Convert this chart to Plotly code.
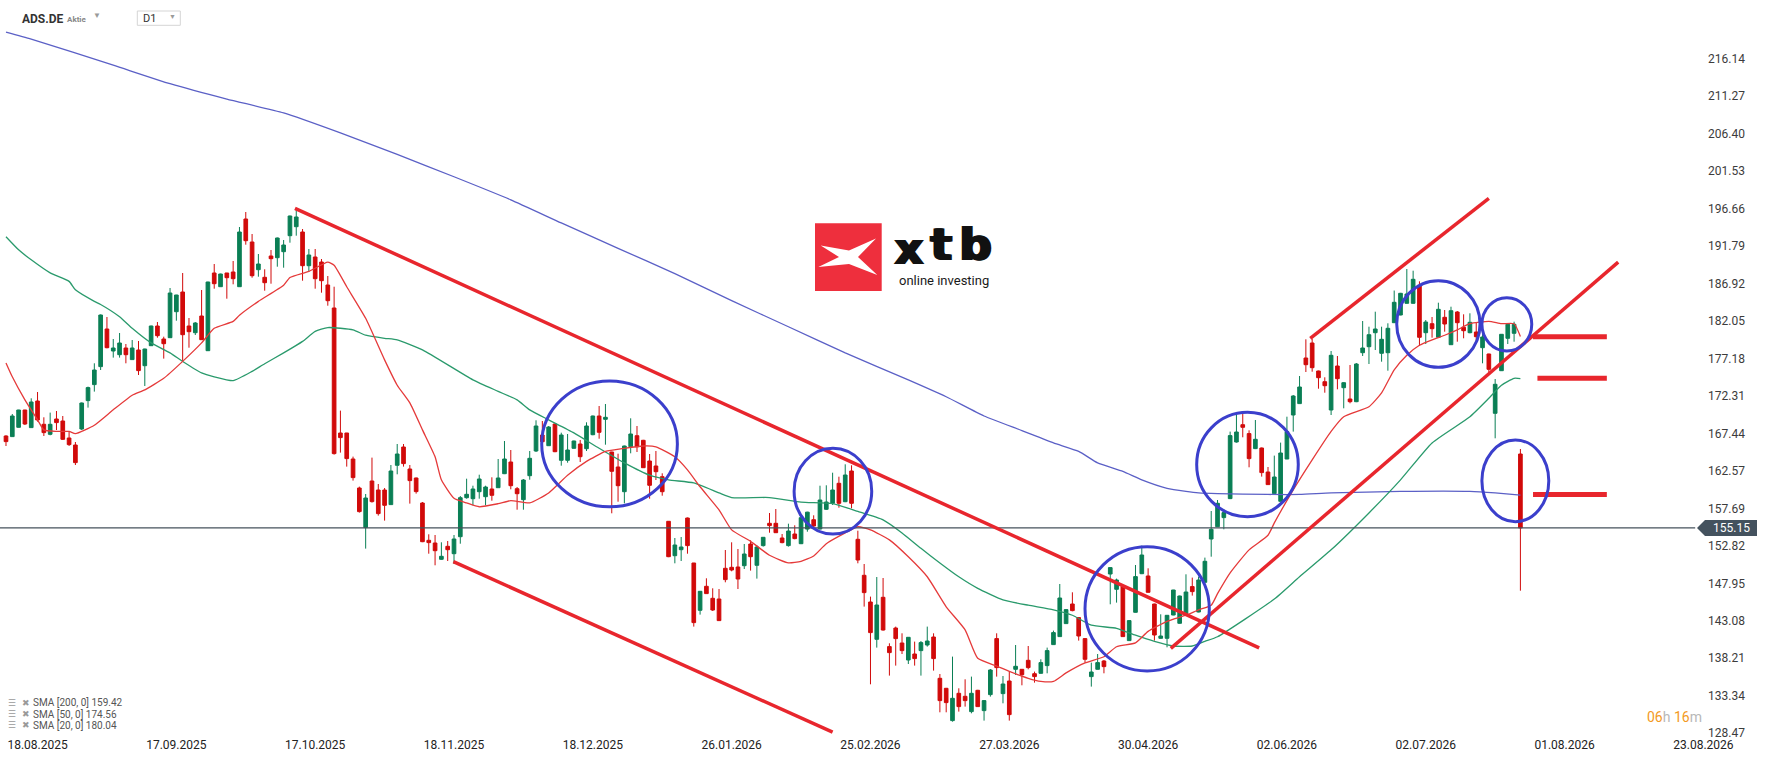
import plotly.graph_objects as go

W, H = 1768, 761
PLOT_B = 736  # bottom of plot area in px

# ---------------- data ----------------
tick_idx = [5, 27, 49, 71, 93, 115, 137, 159, 181, 203, 225, 247, 269]
tick_text = ["18.08.2025", "17.09.2025", "17.10.2025", "18.11.2025", "18.12.2025",
             "26.01.2026", "25.02.2026", "27.03.2026", "30.04.2026", "02.06.2026",
             "02.07.2026", "01.08.2026", "23.08.2026"]

y_ticks = [216.14, 211.27, 206.40, 201.53, 196.66, 191.79, 186.92, 182.05, 177.18, 172.31,
           167.44, 162.57, 157.69, 152.82, 147.95, 143.08, 138.21, 133.34, 128.47]

opens = [167.10, 167.02, 168.23, 170.48, 168.19, 171.65, 168.62, 167.32, 169.31, 169.05,
         166.84, 165.93, 168.01, 171.70, 173.78, 176.12, 181.01, 178.15, 177.67, 178.54,
         177.03, 178.28, 176.24, 178.84, 181.40, 179.71, 179.88, 183.26, 185.82, 181.40,
         180.53, 182.70, 178.19, 188.29, 186.51, 188.29, 188.42, 186.51, 195.31, 192.32,
         188.72, 187.73, 190.50, 190.28, 191.06, 193.14, 194.31, 193.62, 189.24, 190.37,
         189.72, 186.73, 183.74, 167.49, 167.49, 164.11, 160.34, 155.19, 161.25, 160.08,
         160.08, 158.18, 163.29, 165.67, 162.81, 161.64, 158.39, 153.54, 153.19, 151.07,
         152.76, 151.80, 154.01, 159.08, 158.95, 159.86, 159.21, 160.21, 160.38, 162.20,
         163.72, 160.25, 158.82, 161.94, 165.15, 167.23, 165.84, 168.66, 163.94, 163.94,
         165.50, 166.06, 165.45, 167.27, 169.70, 169.27, 165.02, 163.07, 159.86, 165.71,
         167.14, 166.54, 163.85, 163.20, 161.81, 156.01, 151.54, 152.32, 156.44, 150.59,
         144.44, 147.56, 146.00, 145.91, 149.90, 150.03, 150.07, 150.24, 153.06, 150.29,
         152.85, 155.75, 155.75, 153.84, 152.85, 154.36, 153.10, 155.00, 156.22, 155.01,
         157.57, 158.35, 160.95, 158.56, 162.55, 153.67, 148.99, 145.52, 140.67, 146.13,
         139.72, 142.14, 140.19, 137.98, 138.76, 139.20, 139.93, 140.97, 135.60, 134.30,
         130.10, 133.65, 133.26, 131.27, 134.04, 131.40, 133.48, 140.76, 133.61, 135.25,
         136.77, 136.77, 137.94, 136.20, 136.25, 137.25, 139.98, 141.02, 142.71, 145.26,
         143.49, 140.76, 135.82, 136.77, 137.85, 149.16, 147.17, 147.52, 140.50, 144.18,
         149.20, 148.90, 145.26, 140.80, 140.80, 143.83, 142.75, 143.79, 147.52, 144.22,
         148.08, 153.71, 155.31, 156.49, 158.96, 166.32, 168.57, 167.41, 165.46, 165.54,
         162.42, 159.61, 158.61, 164.11, 169.83, 171.31, 177.24, 179.19, 175.55, 174.16,
         170.48, 176.20, 173.38, 171.91, 171.56, 177.93, 178.71, 180.53, 177.85, 177.93,
         181.83, 182.83, 184.35, 184.35, 186.69, 180.53, 181.70, 179.93, 182.53, 178.97,
         183.22, 181.23, 180.53, 180.62, 178.58, 177.76, 170.05, 175.59, 179.80, 180.45,
         164.76]
highs = [167.20, 169.96, 170.50, 170.50, 172.00, 172.82, 169.53, 170.14, 170.35, 169.70,
         167.75, 166.32, 171.45, 173.52, 176.55, 182.90, 182.57, 179.71, 180.49, 179.06,
         179.58, 179.45, 178.45, 181.45, 181.92, 180.01, 186.34, 185.45, 188.29, 182.44,
         181.92, 186.08, 187.15, 189.46, 188.20, 188.30, 189.85, 194.27, 196.22, 193.36,
         190.76, 188.77, 191.28, 192.90, 192.58, 195.75, 196.61, 194.01, 191.41, 191.41,
         190.11, 187.90, 186.51, 170.40, 167.50, 164.42, 160.52, 159.56, 164.29, 160.86,
         160.34, 163.33, 166.06, 166.06, 163.33, 161.70, 158.52, 154.32, 154.23, 153.28,
         153.45, 154.23, 159.30, 161.55, 160.64, 162.07, 160.64, 161.73, 164.11, 166.45,
         165.28, 160.47, 161.51, 165.15, 169.14, 169.05, 168.40, 168.70, 167.53, 167.36,
         166.50, 166.58, 168.88, 169.75, 171.00, 171.26, 165.05, 164.80, 165.85, 169.40,
         168.40, 166.60, 164.76, 165.15, 162.25, 156.05, 153.84, 153.97, 156.50, 150.60,
         146.95, 148.60, 147.30, 147.21, 152.28, 153.28, 152.41, 153.06, 153.54, 152.89,
         153.95, 157.09, 157.61, 154.36, 155.70, 155.49, 156.66, 157.25, 156.79, 160.64,
         160.69, 162.33, 161.81, 163.42, 163.29, 154.79, 150.46, 146.22, 148.77, 148.64,
         140.15, 142.32, 141.45, 140.95, 140.37, 140.45, 142.32, 141.45, 136.16, 134.35,
         138.42, 134.30, 135.47, 135.82, 134.10, 132.75, 136.81, 141.45, 135.90, 136.47,
         139.93, 136.80, 139.80, 136.47, 138.07, 139.59, 141.80, 147.86, 144.55, 146.78,
         143.50, 140.80, 137.64, 138.76, 137.98, 150.00, 148.56, 147.55, 143.15, 150.33,
         152.85, 149.90, 145.30, 143.92, 143.80, 147.10, 146.35, 149.12, 148.69, 148.82,
         151.29, 157.35, 158.78, 157.57, 167.67, 169.96, 170.05, 167.84, 169.18, 165.60,
         163.07, 164.55, 166.24, 169.61, 172.43, 174.90, 179.67, 179.71, 175.60, 174.73,
         178.15, 177.50, 174.10, 176.33, 176.59, 182.05, 181.31, 183.26, 181.31, 181.75,
         186.01, 185.70, 188.81, 188.59, 187.21, 182.18, 182.57, 184.43, 183.48, 183.91,
         183.35, 182.92, 183.05, 181.83, 180.36, 177.80, 174.51, 180.35, 181.65, 181.96,
         165.41]
lows = [165.80, 167.00, 168.20, 168.53, 168.15, 168.97, 167.10, 167.19, 167.88, 166.58,
        165.80, 163.33, 167.88, 170.79, 172.87, 175.68, 178.50, 177.29, 177.29, 176.55,
        177.00, 175.03, 173.60, 178.80, 179.88, 177.16, 179.85, 182.09, 176.77, 178.58,
        180.23, 179.60, 178.15, 186.25, 186.50, 184.95, 186.82, 186.50, 191.97, 187.68,
        187.81, 185.99, 186.90, 189.11, 188.98, 192.23, 193.14, 187.29, 188.46, 186.25,
        185.73, 184.04, 164.68, 164.94, 163.12, 161.30, 157.14, 152.46, 158.44, 156.75,
        156.10, 158.15, 162.12, 163.12, 158.31, 159.61, 153.30, 151.80, 150.29, 151.00,
        150.85, 150.46, 153.10, 158.95, 158.09, 158.95, 158.09, 158.69, 160.35, 162.15,
        160.17, 157.52, 157.52, 161.42, 165.02, 165.97, 165.80, 165.00, 163.24, 163.63,
        165.45, 163.72, 165.15, 167.20, 166.75, 165.97, 157.05, 158.56, 158.35, 164.85,
        165.02, 162.95, 158.95, 161.38, 159.34, 151.35, 150.55, 150.85, 151.80, 142.32,
        143.88, 146.60, 144.35, 143.05, 148.08, 149.51, 147.21, 149.81, 149.60, 148.56,
        152.72, 154.53, 154.50, 153.15, 152.72, 153.67, 153.05, 154.66, 155.27, 154.95,
        157.48, 158.13, 157.78, 158.50, 157.70, 150.55, 144.92, 134.82, 139.59, 141.80,
        135.95, 137.25, 138.76, 137.46, 137.25, 135.95, 139.72, 136.60, 131.18, 131.18,
        129.97, 131.27, 131.92, 131.05, 131.90, 130.10, 133.22, 135.82, 132.35, 130.10,
        136.03, 134.69, 136.77, 135.04, 136.20, 136.25, 139.95, 141.00, 142.70, 144.31,
        140.50, 137.64, 134.52, 136.75, 136.25, 145.22, 145.44, 141.00, 140.45, 144.15,
        149.15, 146.75, 140.50, 140.75, 139.63, 143.80, 142.70, 143.75, 146.35, 144.18,
        148.05, 151.41, 155.30, 154.97, 158.90, 166.24, 166.93, 163.03, 165.40, 161.82,
        160.75, 159.60, 158.60, 164.10, 167.67, 171.30, 175.42, 175.46, 173.25, 172.73,
        169.83, 173.17, 170.70, 171.35, 171.50, 177.50, 176.46, 178.28, 176.76, 175.59,
        181.80, 182.80, 184.30, 184.30, 178.80, 179.06, 179.88, 179.90, 180.66, 178.95,
        179.36, 179.80, 180.45, 179.32, 176.55, 175.33, 166.80, 175.55, 179.06, 179.36,
        146.99]
closes = [166.37, 169.70, 170.48, 168.66, 171.52, 169.18, 167.54, 168.62, 168.84, 166.67,
          165.98, 163.64, 171.39, 173.39, 175.68, 182.83, 178.58, 178.54, 179.19, 177.67,
          178.54, 175.60, 178.41, 181.40, 180.14, 179.10, 185.69, 185.43, 180.27, 180.66,
          181.79, 179.62, 187.12, 186.90, 188.16, 187.68, 187.55, 193.62, 192.49, 187.94,
          189.46, 187.03, 190.15, 192.84, 191.93, 195.70, 195.57, 189.24, 190.63, 187.55,
          187.29, 184.69, 164.81, 166.89, 164.16, 161.69, 157.27, 159.04, 158.57, 157.01,
          158.09, 162.55, 164.76, 163.51, 161.30, 159.87, 153.36, 153.24, 152.19, 151.46,
          152.32, 153.71, 159.08, 159.52, 160.21, 161.51, 160.47, 159.39, 161.64, 164.11,
          160.64, 159.60, 161.38, 164.20, 168.40, 166.36, 168.27, 165.06, 167.23, 165.28,
          166.45, 164.41, 168.40, 169.70, 167.58, 169.53, 162.51, 160.64, 165.80, 167.36,
          165.71, 162.98, 160.69, 162.46, 159.86, 151.41, 152.93, 152.67, 152.85, 142.84,
          146.91, 146.61, 144.48, 143.10, 148.43, 149.68, 148.51, 151.76, 151.41, 152.67,
          153.93, 155.45, 154.53, 153.24, 154.75, 153.76, 156.48, 157.20, 155.40, 158.78,
          158.52, 160.08, 158.35, 162.03, 158.35, 150.98, 146.74, 141.54, 145.13, 141.88,
          138.94, 140.76, 139.20, 140.93, 138.16, 140.24, 140.45, 138.16, 132.70, 132.44,
          133.00, 131.92, 132.70, 133.65, 131.92, 132.70, 136.68, 136.99, 134.86, 130.88,
          137.16, 136.07, 136.99, 135.82, 137.64, 139.20, 141.54, 146.04, 144.53, 144.40,
          141.10, 138.07, 136.42, 137.64, 137.12, 149.99, 148.38, 141.02, 143.10, 148.82,
          151.63, 146.78, 141.23, 141.10, 143.79, 147.08, 146.30, 146.82, 146.87, 148.38,
          150.81, 154.97, 158.35, 157.14, 167.15, 167.62, 168.23, 164.16, 166.67, 162.34,
          160.78, 161.77, 164.89, 167.67, 172.30, 173.47, 176.37, 175.98, 174.68, 173.64,
          177.59, 174.55, 174.03, 171.56, 176.46, 178.54, 180.27, 181.01, 179.67, 181.10,
          184.48, 185.65, 185.56, 187.47, 179.93, 181.92, 181.05, 183.57, 181.66, 183.39,
          181.83, 180.79, 181.88, 180.01, 179.97, 175.77, 173.82, 180.32, 181.62, 181.62,
          155.15]

sma200_idx = [0, 4, 17, 26, 35, 44, 53, 62, 71, 80, 88, 97, 106, 115, 124, 133, 143, 149, 155, 161,
              166, 170, 173, 177, 180, 184, 187, 189, 192, 200, 205, 210, 221, 232, 236, 240]
sma200_val = [219.6, 218.7, 215.3, 212.9, 210.9, 209.1, 206.5, 203.7, 200.8, 197.8,
              194.8, 191.5, 188.2, 184.7, 181.3, 177.9, 174.4, 172.2, 169.7, 167.8,
              166.2, 165.1, 163.6, 162.5, 161.4, 160.3, 159.9, 159.7, 159.6, 159.5,
              159.5, 159.7, 159.9, 159.9, 159.7, 159.42]

sma50_idx = [0, 2, 4, 7, 10, 11, 14, 15, 18, 20, 23, 26, 28, 31, 33, 36, 39, 41, 44, 47,
             49, 51, 55, 57, 60, 62, 66, 74, 78, 81, 83, 86, 90, 94, 98, 102, 105, 109, 113, 115,
             121, 126, 131, 135, 139, 142, 145, 148, 151, 154, 158, 162, 166, 169, 172, 176, 179, 182, 185, 188,
             190, 192, 201, 205, 210, 216, 221, 226, 232, 235, 237, 239, 240]
sma50_val = [193.0, 191.3, 190.0, 188.3, 187.2, 186.1, 184.6, 184.2, 182.6, 181.1,
             179.2, 177.9, 176.8, 175.3, 174.8, 174.3, 175.5, 176.5, 177.9, 179.4,
             180.7, 181.2, 180.9, 180.2, 179.8, 179.6, 178.3, 174.4, 172.9, 171.8,
             170.5, 169.2, 167.5, 165.5, 163.6, 162.0, 161.4, 161.0, 159.7, 159.1,
             159.1, 158.5, 158.3, 157.3, 156.2, 154.5, 152.5, 150.6, 148.8, 147.3,
             145.8, 145.1, 144.5, 143.8, 142.5, 142.1, 141.2, 140.4, 139.8, 139.8,
             140.4, 141.0, 145.9, 148.8, 152.3, 157.1, 161.4, 166.2, 169.6, 172.0,
             173.7, 174.6, 174.56]

sma20_idx = [0, 1, 3, 5, 6, 8, 10, 11, 14, 17, 20, 22, 25, 28, 31, 33, 36, 37, 40, 44,
             45, 48, 51, 52, 54, 57, 60, 62, 64, 66, 68, 69, 71, 73, 75, 78, 80, 83, 86, 89,
             92, 95, 98, 101, 103, 106, 108, 110, 113, 115, 118, 121, 124, 126, 128, 130, 133, 135, 137, 140,
             143, 146, 149, 152, 154, 157, 159, 162, 164, 166, 168, 171, 174, 176, 179, 181, 184, 187, 189, 191,
             192, 194, 197, 200, 201, 204, 207, 210, 212, 216, 218, 220, 222, 224, 226, 228, 230, 232, 235, 237,
             239, 240]
sma20_val = [176.6, 174.8, 171.8, 169.2, 167.9, 167.7, 167.7, 167.4, 168.5, 170.5,
             172.4, 173.1, 174.6, 176.8, 179.2, 181.1, 182.0, 182.8, 184.6, 186.7,
             187.7, 188.5, 189.7, 189.3, 186.5, 182.4, 177.0, 173.7, 171.4, 167.9,
             164.4, 161.4, 159.0, 158.4, 157.9, 158.3, 158.7, 158.4, 159.7, 162.0,
             163.8, 165.1, 165.5, 165.8, 165.7, 164.4, 162.7, 160.5, 157.5, 154.9,
             153.4, 151.6, 150.6, 150.8, 151.5, 153.1, 154.5, 155.3, 154.9, 153.6,
             151.4, 148.8, 144.9, 141.9, 138.2, 137.2, 136.5, 135.6, 135.2, 135.2,
             136.3, 137.6, 138.4, 139.7, 140.2, 141.7, 143.0, 143.8, 144.5, 145.1,
             146.6, 149.3, 152.3, 154.2, 155.8, 160.1, 164.0, 167.7, 169.6, 170.9,
             172.7, 175.7, 177.6, 178.9, 179.6, 180.2, 180.9, 181.7, 182.0, 181.7,
             181.7, 180.04]

legend_rows = ["SMA [200, 0] 159.42", "SMA [50, 0] 174.56", "SMA [20, 0] 180.04"]
last_price = 155.15

# ---------------- figure ----------------
Y0, Y1 = 128.10, 223.78
X0, X1 = -0.95, 279.24


def P(px, py):
    return px / W, (PLOT_B - py) / PLOT_B


fig = go.Figure()
x = list(range(len(opens)))
fig.add_trace(go.Candlestick(
    x=x, open=opens, high=highs, low=lows, close=closes,
    increasing=dict(line=dict(color="#0a7f55", width=1), fillcolor="#0a7f55"),
    decreasing=dict(line=dict(color="#d10a0a", width=1), fillcolor="#d10a0a"),
    whiskerwidth=0, showlegend=False, hoverinfo="skip"))

for xs, ys, col in [(sma200_idx, sma200_val, "#5b60c6"),
                    (sma50_idx, sma50_val, "#2a9a6c"),
                    (sma20_idx, sma20_val, "#e53a3a")]:
    fig.add_trace(go.Scatter(x=xs, y=ys, mode="lines", showlegend=False, hoverinfo="skip",
                             line=dict(color=col, width=1.3, shape="spline", smoothing=0.5)))

shapes = []
# last price line
shapes.append(dict(type="line", xref="x", yref="y", x0=X0, x1=267.7, y0=last_price, y1=last_price,
                   line=dict(color="#46525c", width=1.3)))
# red trend lines
RED = "#e8262d"
for (a, b, c, d) in [(45.8, 196.7, 198.6, 139.56), (70.9, 150.76, 131.0, 128.6),
                     (206.7, 179.8, 235.0, 198.0), (184.6, 139.5, 255.5, 189.7)]:
    shapes.append(dict(type="line", xref="x", yref="y", x0=a, y0=b, x1=c, y1=d,
                       line=dict(color=RED, width=3.5)))
for (a, yv) in [(242.0, 180.0), (242.7, 174.6), (242.0, 159.5)]:
    shapes.append(dict(type="line", xref="x", yref="y", x0=a, y0=yv, x1=253.7, y1=yv,
                       line=dict(color=RED, width=5)))
# blue circles
BLUE = "#3b3fcc"
for (a, c, b, d) in [(84.9, 106.4, 157.9, 174.25), (124.9, 137.2, 154.36, 165.5),
                     (171.0, 190.7, 136.55, 152.71), (188.7, 204.8, 156.61, 170.18),
                     (220.4, 233.6, 176.03, 187.29), (233.9, 241.8, 178.15, 185.08),
                     (233.9, 244.5, 155.96, 166.58)]:
    shapes.append(dict(type="circle", xref="x", yref="y", x0=a, x1=c, y0=b, y1=d,
                       line=dict(color=BLUE, width=3)))

# price tag
ty = (Y1 - last_price) / (Y1 - Y0) * PLOT_B
pts = [(1697, ty), (1705, ty - 8), (1757, ty - 8), (1757, ty + 8), (1705, ty + 8)]
path = "M " + " L ".join("%f %f" % P(px, py) for px, py in pts) + " Z"
shapes.append(dict(type="path", xref="paper", yref="paper", path=path,
                   fillcolor="#44525e", line=dict(width=0)))

# xtb logo
x0p, y0p = P(815, 291)
x1p, y1p = P(881.7, 223.3)
shapes.append(dict(type="rect", xref="paper", yref="paper", x0=x0p, y0=y0p, x1=x1p, y1=y1p,
                   fillcolor="#ee2f3d", line=dict(width=0)))
xpts = [(820.7, 245.5), (849, 250.5), (876, 238.5), (858, 257), (877.3, 275), (849, 264),
        (818.3, 267), (839, 257)]
xpath = "M " + " L ".join("%f %f" % P(px, py) for px, py in xpts) + " Z"
shapes.append(dict(type="path", xref="paper", yref="paper", path=xpath,
                   fillcolor="white", line=dict(width=0)))

# D1 box
bx0, by0 = P(137.3, 25.3)
bx1, by1 = P(180.3, 11)
shapes.append(dict(type="rect", xref="paper", yref="paper", x0=bx0, y0=by0, x1=bx1, y1=by1,
                   fillcolor="white", line=dict(color="#d5d5d5", width=1)))

ann = []


def text(px, py, s, size, color, xanchor="left", family="Roboto", bold=False):
    xp, yp = P(px, py)
    if bold:
        s = "<b>" + s + "</b>"
    ann.append(dict(xref="paper", yref="paper", x=xp, y=yp, text=s, showarrow=False,
                    xanchor=xanchor, yanchor="middle", align="left",
                    font=dict(size=size, color=color, family=family)))


text(19.5, 19, "ADS.DE", 12, "#333333", bold=True)
text(64.5, 19.5, "Aktie", 8, "#888888", bold=True)
text(96.5, 16, "▼", 8, "#9a9a9a", xanchor="center")
text(141, 18.5, "D1", 11, "#333333")
text(172.5, 17, "▼", 7, "#9a9a9a", xanchor="center")

for i, row in enumerate(legend_rows):
    yy = 702.7 + i * 11.3
    text(5.5, yy, "☰", 9, "#9a9a9a")
    text(20, yy, "✖", 9, "#9a9a9a")
    text(31, yy, row, 10, "#555555")

ann.append(dict(xref="paper", yref="paper", x=P(1704, 0)[0], y=P(0, 717)[1], showarrow=False,
                xanchor="right", yanchor="middle",
                text='<span style="color:#f39a1e">06</span><span style="color:#b8b8b8">h</span> '
                     '<span style="color:#f39a1e">16</span><span style="color:#b8b8b8">m</span>',
                font=dict(size=14, family="Roboto")))

text(1731, ty, "%.2f" % last_price, 12, "#ffffff", xanchor="center")

# xtb word mark (heavy weight simulated by slight offsets)
for dx in (-1.4, -0.5, 0.5, 1.4):
    text(909 + dx, 248.5, "x", 45, "#111111", xanchor="center", family="DejaVu Sans", bold=True)
    text(941.5 + dx, 245, "t", 45, "#111111", xanchor="center", family="DejaVu Sans", bold=True)
    text(975.5 + dx, 245, "b", 45, "#111111", xanchor="center", family="DejaVu Sans", bold=True)
text(944, 280.5, "online investing", 13, "#1a1a1a", xanchor="center")

fig.update_layout(
    width=W, height=H, margin=dict(l=0, r=0, t=0, b=H - PLOT_B),
    paper_bgcolor="white", plot_bgcolor="white",
    showlegend=False, boxgap=0.42, boxgroupgap=0,
    shapes=shapes, annotations=ann,
    font=dict(family="Roboto"),
    xaxis=dict(range=[X0, X1], domain=[0, 1], tickvals=tick_idx, ticktext=tick_text,
               showgrid=False, zeroline=False, showline=False, ticks="",
               tickfont=dict(size=12, color="#222222", family="Roboto"),
               rangeslider=dict(visible=False), fixedrange=True),
    yaxis=dict(range=[Y0, Y1], side="right", tickvals=y_ticks,
               ticktext=["%.2f" % v for v in y_ticks],
               ticklabelposition="inside", ticklabelstandoff=20, ticklabeloverflow="allow",
               showgrid=False, zeroline=False, showline=False, ticks="",
               tickfont=dict(size=12, color="#3c3c3c", family="Roboto"), fixedrange=True),
)

fig.write_html("out.html")
